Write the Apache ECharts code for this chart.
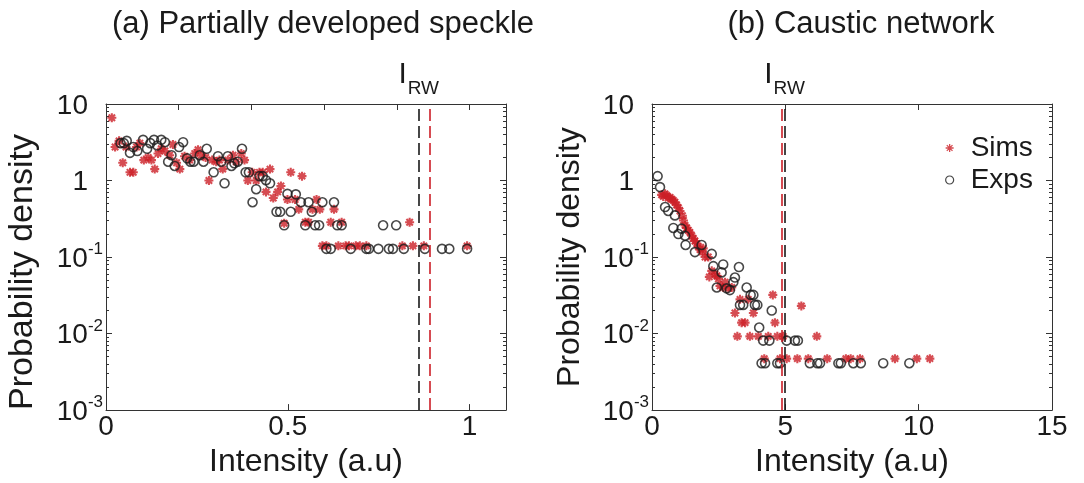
<!DOCTYPE html>
<html>
<head>
<meta charset="utf-8">
<script src="https://cdn.jsdelivr.net/npm/echarts@6/dist/echarts.min.js"></script>
<style>
  html, body { margin: 0; padding: 0; background: #fff; }
  #chart { width: 1084px; height: 483px; }
</style>
</head>
<body>
<div id="chart"></div>
<script>
// Probability density of intensity: simulations (stars) vs experiments (circles)

// (a) Partially developed speckle
const simsA = [
  [0.016,6.6],[0.025,2.74],[0.036,3.3],[0.046,1.71],[0.055,2.74],[0.066,1.28],[0.075,1.28],[0.084,2.74],
  [0.093,3.08],[0.104,1.85],[0.116,2.0],[0.125,1.85],[0.134,1.41],[0.143,2.25],[0.152,2.6],[0.162,2.43],
  [0.175,2.14],[0.184,2.96],[0.194,1.71],[0.203,1.41],[0.216,2.08],[0.230,1.85],[0.244,2.25],[0.253,2.53],
  [0.262,2.14],[0.274,2.0],[0.283,1.0],[0.292,1.85],[0.303,1.76],[0.312,1.85],[0.321,1.41],[0.335,1.85],
  [0.349,2.14],[0.358,1.76],[0.372,2.25],[0.381,1.85],[0.390,1.0],[0.402,1.28],[0.413,1.0],[0.422,1.28],
  [0.431,1.28],[0.440,0.71],[0.451,1.41],[0.460,0.59],[0.472,0.71],[0.481,0.85],[0.490,0.277],[0.499,0.565],
  [0.508,1.28],[0.520,0.565],[0.530,0.42],[0.539,1.14],[0.548,0.285],[0.557,0.285],[0.568,0.42],[0.579,0.565],
  [0.588,0.42],[0.595,0.14],[0.606,0.14],[0.618,0.285],[0.627,0.42],[0.639,0.14],[0.648,0.285],[0.659,0.14],
  [0.668,0.14],[0.687,0.14],[0.698,0.14],[0.716,0.14],[0.815,0.14],[0.835,0.285],[0.844,0.14],[0.874,0.14],
  [0.993,0.14]
];
const expsA = [
  [0.040,3.08],[0.049,3.08],[0.057,3.3],[0.066,2.3],[0.075,2.74],[0.086,2.43],[0.102,3.4],[0.113,2.6],
  [0.122,3.08],[0.132,3.4],[0.141,2.87],[0.152,3.4],[0.162,3.17],[0.171,1.76],[0.180,2.14],[0.189,1.55],
  [0.201,2.74],[0.212,3.17],[0.223,1.95],[0.232,1.76],[0.241,1.76],[0.258,2.14],[0.268,1.76],[0.277,2.6],
  [0.296,1.28],[0.308,2.08],[0.317,1.76],[0.326,0.92],[0.335,2.08],[0.345,1.55],[0.353,1.68],[0.362,1.76],
  [0.374,2.6],[0.384,1.28],[0.393,1.28],[0.403,0.52],[0.413,0.77],[0.422,1.14],[0.431,1.14],[0.440,1.01],
  [0.451,0.92],[0.469,0.39],[0.479,0.39],[0.490,0.26],[0.499,0.67],[0.508,0.39],[0.522,0.66],[0.536,0.52],
  [0.548,0.26],[0.557,0.52],[0.566,0.39],[0.575,0.26],[0.586,0.26],[0.595,0.52],[0.606,0.128],[0.618,0.128],
  [0.627,0.52],[0.636,0.26],[0.648,0.26],[0.673,0.128],[0.716,0.128],[0.723,0.128],[0.749,0.128],[0.762,0.26],
  [0.778,0.128],[0.789,0.128],[0.798,0.26],[0.819,0.128],[0.877,0.128],[0.924,0.128],[0.944,0.128],[0.993,0.128]
];
// I_RW thresholds for panel (a): [experiments, simulations]
const rwA = [0.857, 0.886];

// (b) Caustic network
const simsB = [
  [0.36,0.65],[0.42,0.62],[0.49,0.67],[0.55,0.64],[0.61,0.59],[0.68,0.6],[0.74,0.57],[0.80,0.55],
  [0.86,0.52],[0.92,0.48],[0.99,0.44],[1.05,0.40],[1.14,0.346],[1.18,0.30],[1.24,0.259],[1.30,0.24],
  [1.36,0.224],[1.42,0.21],[1.49,0.19],[1.55,0.175],[1.61,0.162],[1.68,0.15],[1.74,0.137],[1.80,0.125],
  [1.89,0.116],[1.92,0.13],[1.99,0.10],[2.11,0.10],[2.15,0.055],[2.24,0.066],[2.36,0.06],[2.43,0.057],
  [2.49,0.052],[2.55,0.042],[2.67,0.04],[2.74,0.047],[2.86,0.039],[2.99,0.04],[3.11,0.0186],[3.20,0.0092],
  [3.30,0.028],[3.36,0.0139],[3.49,0.0139],[3.61,0.028],[3.67,0.0092],[3.80,0.0186],[3.99,0.0092],[4.21,0.0047],
  [4.36,0.0092],[4.53,0.032],[4.61,0.0139],[4.70,0.0092],[4.80,0.0047],[4.92,0.0092],[5.05,0.0047],[5.45,0.0047],
  [5.60,0.023],[5.86,0.0047],[6.18,0.0092],[6.57,0.0047],[7.27,0.0047],[7.45,0.0047],[7.80,0.0047],[9.11,0.0047],
  [9.93,0.0047],[10.42,0.0047]
];
const expsB = [
  [0.21,1.14],[0.30,0.82],[0.49,0.45],[0.61,0.40],[0.80,0.24],[0.86,0.35],[0.99,0.20],[1.11,0.235],
  [1.24,0.19],[1.26,0.144],[1.61,0.116],[1.86,0.144],[2.24,0.11],[2.30,0.076],[2.43,0.040],[2.61,0.063],
  [2.67,0.080],[2.80,0.039],[2.92,0.037],[3.05,0.047],[3.11,0.054],[3.26,0.074],[3.30,0.0237],[3.42,0.0237],
  [3.55,0.040],[3.70,0.032],[3.80,0.032],[3.86,0.0237],[3.95,0.0237],[4.02,0.012],[4.11,0.0041],[4.17,0.0081],
  [4.24,0.0041],[4.40,0.0081],[4.49,0.020],[4.70,0.0041],[4.80,0.0041],[5.05,0.0081],[5.36,0.0081],[5.47,0.0081],
  [5.92,0.0041],[6.20,0.0041],[6.30,0.0041],[6.99,0.0041],[7.08,0.0041],[7.55,0.0041],[7.83,0.0041],[8.67,0.0041],
  [9.65,0.0041]
];
// I_RW thresholds for panel (b): [experiments, simulations]
const rwB = [4.97, 4.88];

const titles = ['(a) Partially developed speckle', '(b) Caustic network'];
const xName = 'Intensity (a.u)';
const yName = 'Probability density';
const legendNames = ['Sims', 'Exps'];

// log-axis minor tick values: 2..9 within each decade
const minorTickValues = [];
for (let e = -3; e <= 0; e++) {
  for (let m = 2; m <= 9; m++) minorTickValues.push(parseFloat((m * Math.pow(10, e)).toPrecision(3)));
}

const FONT = '"Liberation Sans", Arial, Helvetica, sans-serif';
const RED = '#cc1f27';
const INK = '#1a1a1a';
const FRAME = '#333';
const STAR = 'path://M0,-10L0,10M-10,0L10,0M-7.1,-7.1L7.1,7.1M-7.1,7.1L7.1,-7.1';

function logLabel(v) {
  const e = Math.round(Math.log10(v));
  if (e === 0) return '{b|1}';
  if (e === 1) return '{b|10}';
  return '{e|10}{s|' + e + '}';
}

function yAxesFor(grid, nameGap, namePad, nameSize) {
  const base = { gridIndex: grid, type: 'log', logBase: 10, min: 0.001, max: 10, splitLine: { show: false } };
  const line = { show: true, lineStyle: { color: FRAME, width: 1 } };
  return [
    Object.assign({}, base, {
      position: 'left', name: yName, nameLocation: 'middle', nameGap: nameGap,
      nameTextStyle: { fontFamily: FONT, fontSize: nameSize, color: INK, padding: namePad },
      axisLine: line,
      axisTick: { show: true, inside: true, length: 6, lineStyle: { color: FRAME } },
      axisLabel: {
        margin: 3, formatter: logLabel, color: INK, fontFamily: FONT,
        rich: {
          b: { fontSize: 28, fontFamily: FONT, color: INK, padding: [4, 15, 0, 0] },
          e: { fontSize: 28, fontFamily: FONT, color: INK, padding: [4, 0, 0, 0] },
          s: { fontSize: 17, fontFamily: FONT, color: INK, lineHeight: 20, verticalAlign: 'top' }
        }
      }
    }),
    Object.assign({}, base, {
      position: 'left', axisLine: { show: false }, axisLabel: { show: false },
      axisTick: { show: true, inside: true, length: 3, customValues: minorTickValues, lineStyle: { color: FRAME } }
    }),
    Object.assign({}, base, {
      position: 'right', axisLine: line, axisLabel: { show: false },
      axisTick: { show: true, inside: true, length: 6, lineStyle: { color: FRAME } }
    }),
    Object.assign({}, base, {
      position: 'right', axisLine: { show: false }, axisLabel: { show: false },
      axisTick: { show: true, inside: true, length: 3, customValues: minorTickValues, lineStyle: { color: FRAME } }
    })
  ];
}

function xAxesFor(grid, max, interval, topInterval) {
  const line = { show: true, lineStyle: { color: FRAME, width: 1 } };
  return [
    {
      gridIndex: grid, type: 'value', position: 'bottom', min: 0, max: max, interval: interval,
      splitLine: { show: false }, axisLine: line,
      axisTick: { show: true, inside: true, length: 6, lineStyle: { color: FRAME } },
      axisLabel: { fontSize: 28, fontFamily: FONT, color: INK, margin: 3, showMaxLabel: max % interval === 0 },
      name: xName, nameLocation: 'middle', nameGap: 28,
      nameTextStyle: { fontFamily: FONT, fontSize: 32, color: INK }
    },
    {
      gridIndex: grid, type: 'value', position: 'top', min: 0, max: max, interval: topInterval,
      splitLine: { show: false }, axisLine: line, axisLabel: { show: false },
      axisTick: { show: true, inside: true, length: 6, lineStyle: { color: FRAME } }
    }
  ];
}

const rwLabel = {
  show: true, position: 'end', distance: 6, formatter: '{i|I}{r|RW}',
  rich: {
    i: { fontSize: 30, fontFamily: FONT, color: INK, padding: [0, 1, 8, 0] },
    r: { fontSize: 19, fontFamily: FONT, color: INK, verticalAlign: 'bottom' }
  }
};

function rwLine(value, color, withLabel) {
  return {
    silent: true, symbol: 'none', animation: false,
    lineStyle: { color: color, type: [12, 5], width: 1.6 },
    label: withLabel ? rwLabel : { show: false },
    data: [{ xAxis: value }]
  };
}

const simStyle = { color: RED, borderColor: RED, borderWidth: 2.1 };
const expStyle = { color: 'rgba(0,0,0,0)', borderColor: INK, borderWidth: 1.6 };

const option = {
  backgroundColor: '#fff',
  animation: false,
  title: [
    { text: titles[0], left: 318, top: 4, textAlign: 'center',
      textStyle: { fontFamily: FONT, fontSize: 31, fontWeight: 'normal', color: INK } },
    { text: titles[1], left: 856, top: 4, textAlign: 'center',
      textStyle: { fontFamily: FONT, fontSize: 31, fontWeight: 'normal', color: INK } }
  ],
  legend: {
    orient: 'vertical', left: 940, top: 129, itemGap: 4, itemWidth: 8, itemHeight: 8,
    textStyle: { fontFamily: FONT, fontSize: 28, color: INK, padding: [0, 0, 0, 12] },
    data: [
      { name: legendNames[0], icon: STAR, itemStyle: { color: RED, borderColor: RED, borderWidth: 1.3 } },
      { name: legendNames[1], icon: 'circle', itemStyle: { color: 'rgba(0,0,0,0)', borderColor: INK, borderWidth: 1.2 } }
    ]
  },
  grid: [
    { left: 106, top: 104, width: 400, height: 315 },
    { left: 652, top: 104, width: 400, height: 316 }
  ],
  xAxis: [].concat(xAxesFor(0, 1.1, 0.5, 0.2), xAxesFor(1, 15, 5, 5)),
  yAxis: [].concat(yAxesFor(0, 66, [0, 30, 0, 0], 34), yAxesFor(1, 66, [0, 0, 0, 0], 32)),
  series: [
    { name: legendNames[0], type: 'scatter', xAxisIndex: 0, yAxisIndex: 0, data: simsA,
      symbol: STAR, symbolSize: 9, itemStyle: simStyle, markLine: rwLine(rwA[1], RED, false) },
    { name: legendNames[1], type: 'scatter', xAxisIndex: 0, yAxisIndex: 0, data: expsA,
      symbol: 'circle', symbolSize: 9, itemStyle: expStyle, markLine: rwLine(rwA[0], INK, true) },
    { name: legendNames[0], type: 'scatter', xAxisIndex: 2, yAxisIndex: 4, data: simsB,
      symbol: STAR, symbolSize: 9, itemStyle: simStyle, markLine: rwLine(rwB[1], RED, false) },
    { name: legendNames[1], type: 'scatter', xAxisIndex: 2, yAxisIndex: 4, data: expsB,
      symbol: 'circle', symbolSize: 9, itemStyle: expStyle, markLine: rwLine(rwB[0], INK, true) }
  ]
};

const chart = echarts.init(document.getElementById('chart'), null, { renderer: 'canvas' });
chart.setOption(option);
</script>
</body>
</html>
